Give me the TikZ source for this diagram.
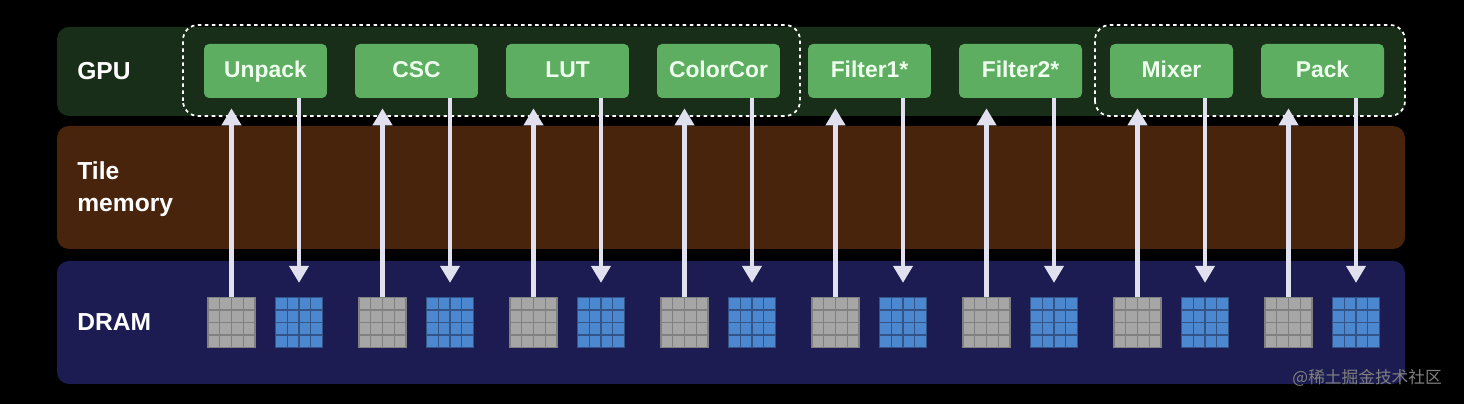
\documentclass[tikz,border=0pt]{standalone}
\usepackage{fontspec}
\setmainfont{Liberation Sans}
\newfontfamily\cjk{Noto Sans CJK SC}
\usetikzlibrary{arrows.meta}
\definecolor{gpuband}{RGB}{24,46,24}
\definecolor{tileband}{RGB}{72,36,12}
\definecolor{dramband}{RGB}{28,28,82}
\definecolor{stagegreen}{RGB}{93,174,97}
\definecolor{stagetext}{RGB}{238,255,238}
\definecolor{flowgrey}{RGB}{224,224,238}
\definecolor{rawgrey}{RGB}{166,166,166}
\definecolor{rawline}{RGB}{128,128,128}
\definecolor{outblue}{RGB}{76,136,208}
\definecolor{outline}{RGB}{52,84,136}
\tikzset{
  band/.style={fill=#1, rounded corners=0.24cm},
  lane/.style={text=white, anchor=west, align=left, inner sep=0pt,
    font=\fontsize{14}{18.5}\selectfont\bfseries},
  stage/.style={fill=stagegreen, rounded corners=0.1cm, inner sep=0pt,
    minimum width=2.46cm, minimum height=1.08cm, text=stagetext,
    text height=0.716em, text depth=0pt,
    font=\fontsize{13}{15}\selectfont\bfseries},
  tile/.style n args={2}{fill=#1, draw=#2, line width=0.7pt,
    minimum width=0.94cm, minimum height=1.0cm, inner sep=0pt,
    path picture={
      \foreach \k in {1,2,3} {
        \draw[#2, line width=0.7pt] ([xshift=\k*0.235cm]path picture bounding box.south west) -- ++(0,1cm);
        \draw[#2, line width=0.7pt] ([yshift=\k*0.25cm]path picture bounding box.south west) -- ++(0.94cm,0);
      }}},
  group/.style={draw=white, line width=1pt, dash pattern=on 2pt off 2pt,
    rounded corners=0.3cm},
  flow/.style={draw=flowgrey, line width=2.3pt,
    -{Triangle[width=0.38cm,length=0.34cm]}}
}
\begin{document}
\begin{tikzpicture}[x=0.02cm,y=0.02cm]
\fill[black] (0,0) rectangle (1464,404);
\useasboundingbox (0,0) rectangle (1464,404);
% the three lanes
\fill[band=gpuband] (57,288) rectangle (1405,377);
\fill[band=tileband] (57,155) rectangle (1405,278);
\fill[band=dramband] (57,20) rectangle (1405,143);
\node[lane] (gpu) at (77,333) {GPU};
\node[lane] (tilemem) at (77,215) {Tile\\memory};
\node[lane] (dram) at (77,82) {DRAM};
% fused groups
\draw[group] (183,288) rectangle (800,379);
\draw[group] (1095,288) rectangle (1405,379);
% stages and their textures in DRAM
\foreach \name [count=\i from 0] in {Unpack,CSC,LUT,ColorCor,Filter1*,Filter2*,Mixer,Pack} {
  \pgfmathsetmacro\cx{265.5+151*\i}
  \node[stage] (stage\i) at (\cx,333) {\name};
  \node[tile={rawgrey}{rawline}] (in\i) at (\cx-34,81.5) {};
  \node[tile={outblue}{outline}] (out\i) at (\cx+33.5,81.5) {};
  \draw[flow, shorten >=0.2cm] (in\i.north) -- (in\i.north |- stage\i.south);
  \draw[flow, shorten >=0.28cm] (stage\i.south -| out\i.north) -- (out\i.north);
}
\node[text=gray, font=\cjk\fontsize{9.5}{11}\selectfont, anchor=east] (mark) at (1448,26) {@稀土掘金技术社区};
\end{tikzpicture}
\end{document}
